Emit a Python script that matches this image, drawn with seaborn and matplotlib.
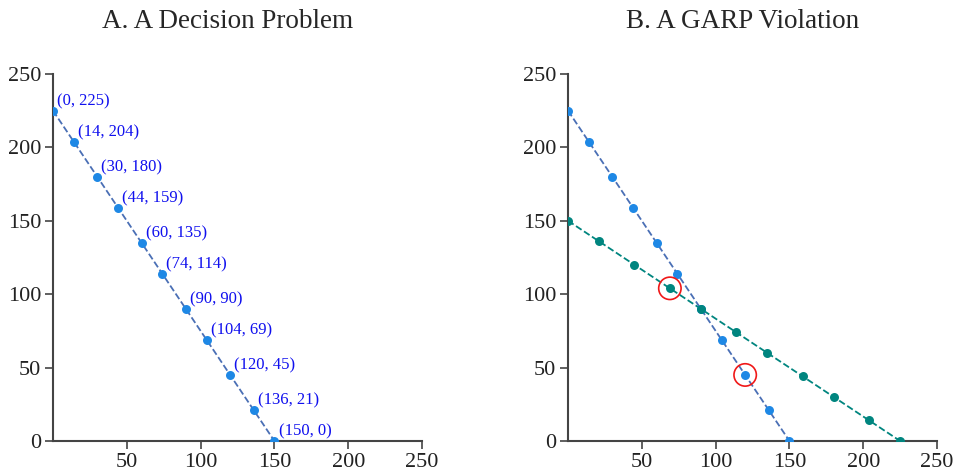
import numpy as np
import pandas as pd
import matplotlib
matplotlib.use("Agg")
import matplotlib.pyplot as plt
import seaborn as sns

# budget line 1 (blue)
x_a = [0, 14, 30, 44, 60, 74, 90, 104, 120, 136, 150]
y_a = [225, 204, 180, 159, 135, 114, 90, 69, 45, 21, 0]

# budget line 2 (teal)
x_b = [0, 21, 45, 69, 90, 114, 135, 159, 180, 204, 225]
y_b = [150, 136, 120, 104, 90, 74, 60, 44, 30, 14, 0]

# chosen bundles forming the violation
circ_x = [69, 120]
circ_y = [104, 45]

x_ticks = [50, 100, 150, 200, 250]
y_ticks = [0, 50, 100, 150, 200, 250]

titles = ["A. A Decision Problem", "B. A GARP Violation"]

sns.set_style("ticks")
plt.rcParams['font.family'] = ['Liberation Serif', 'DejaVu Serif']

df_a = pd.DataFrame({"x": x_a, "y": y_a})
df_b = pd.DataFrame({"x": x_b, "y": y_b})
df_c = pd.DataFrame({"x": circ_x, "y": circ_y})

fig = plt.figure(figsize=(9.55, 4.72), dpi=100)
ax1 = fig.add_axes([0.0555, 0.0657, 0.3864, 0.7775])
ax2 = fig.add_axes([0.5948, 0.0657, 0.3864, 0.7775])

line_blue = "#4a6fb5"
dot_blue = "#1e88e5"
teal = "#00857f"

for ax in (ax1, ax2):
    sns.lineplot(data=df_a, x="x", y="y", ax=ax, color=line_blue, linestyle="--", linewidth=1.3)
    sns.scatterplot(data=df_a, x="x", y="y", ax=ax, color=dot_blue, s=42, linewidth=0, zorder=3)

sns.lineplot(data=df_b, x="x", y="y", ax=ax2, color=teal, linestyle="--", linewidth=1.3)
sns.scatterplot(data=df_b, x="x", y="y", ax=ax2, color=teal, s=42, linewidth=0, zorder=3)
ax2.scatter(df_c["x"], df_c["y"], s=260, facecolors="none", edgecolors="#f01818", linewidths=1.2, zorder=4)

# coordinate labels on panel A
for i, row in df_a.iterrows():
    ax1.annotate(f"({row['x']}, {row['y']})", (row["x"], row["y"]), xytext=(3, 1),
                 textcoords="offset points", color="#1010ee", fontsize=12, ha="left", va="bottom")

for ax, t in zip((ax1, ax2), titles):
    ax.set_xlim(0, 250)
    ax.set_ylim(0, 250)
    ax.set_xticks(x_ticks)
    ax.set_yticks(y_ticks)
    ax.set_xlabel("")
    ax.set_ylabel("")
    ax.tick_params(labelsize=16, length=6, width=1.2, pad=2.5, color="#444444", labelcolor="#222222")
    for s in ("left", "bottom"):
        ax.spines[s].set_color("#444444")
        ax.spines[s].set_linewidth(1.5)
    sns.despine(ax=ax)
    # title centred over the panel incl. tick labels, so slightly left of the axes centre
    ax.set_title(t, fontsize=19.5, pad=0, y=1.125, x=0.473)

fig.savefig("out.png", dpi=100)
